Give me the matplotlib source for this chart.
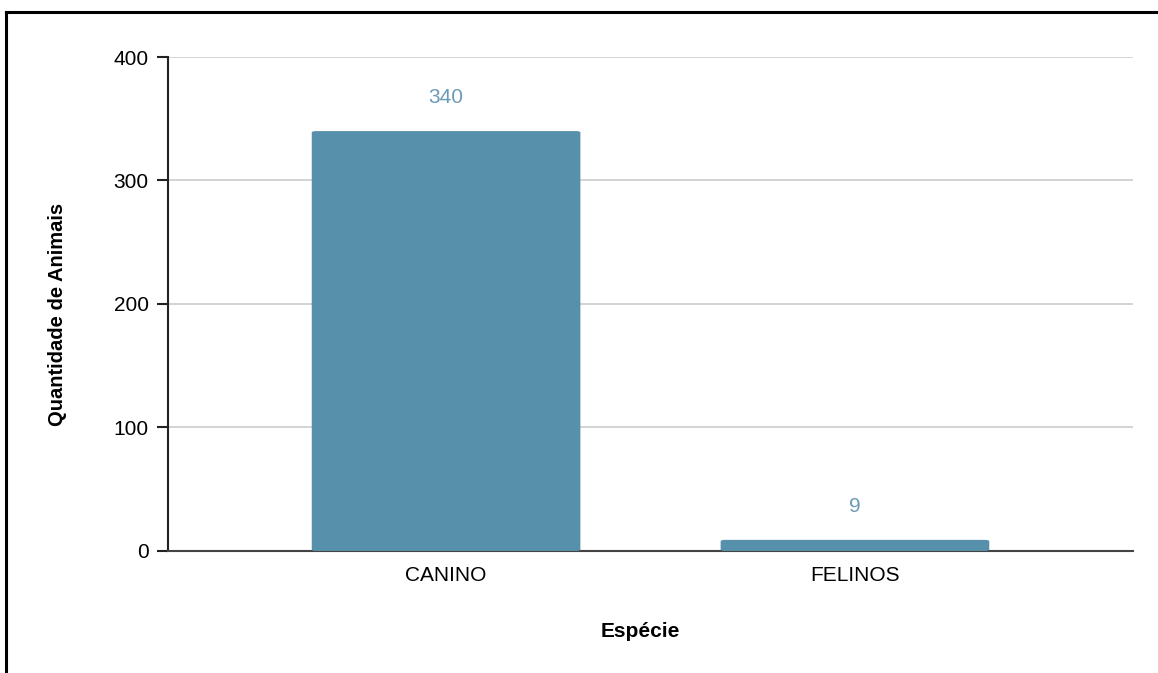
import matplotlib
matplotlib.use("Agg")
import matplotlib.pyplot as plt
from matplotlib.lines import Line2D
from matplotlib.patches import FancyBboxPatch

# dados: animais por espécie
especies = ["CANINO", "FELINOS"]
quantidades = [340, 9]
yticks = [0, 100, 200, 300, 400]

cor_barra = "#5790aa"
cor_rotulo = "#6a9bb8"

plt.rcParams["font.family"] = ["Liberation Sans", "DejaVu Sans"]

fig = plt.figure(figsize=(11.58, 6.73), dpi=100)
ax = fig.add_axes([0.1451, 0.1813, 0.8333, 0.734])

x = list(range(len(especies)))
barras = ax.bar(x, quantidades, width=0.657, color=cor_barra, zorder=3)

# cantos levemente arredondados
for b in barras:
    bx, by = b.get_x(), b.get_y()
    w, h = b.get_width(), b.get_height()
    b.set_visible(False)
    ax.add_patch(FancyBboxPatch((bx, by), w, h,
                                boxstyle="round,pad=0,rounding_size=0.01",
                                mutation_aspect=(400 / 2.36) * (965 / 494) / 3,
                                facecolor=cor_barra, edgecolor="none", zorder=3))

for xi, q in zip(x, quantidades):
    ax.annotate(str(q), (xi, q), xytext=(0, 17), textcoords="offset points",
                ha="center", va="bottom", fontsize=15, color=cor_rotulo)

ax.set_xlim(-0.68, 1.68)
ax.set_ylim(0, 400)
ax.set_yticks(yticks)
ax.set_xticks(x)
ax.set_xticklabels(especies)

ax.grid(axis="y", color="#cccccc", linewidth=1.2, zorder=0)
ax.set_axisbelow(True)
for s in ["top", "right"]:
    ax.spines[s].set_visible(False)
ax.spines["left"].set_linewidth(1.5)
ax.spines["bottom"].set_linewidth(1.5)
ax.spines["bottom"].set_color("#444444")
ax.spines["left"].set_color("#222222")
ax.tick_params(axis="y", length=8, width=1.5, labelsize=15, pad=6, color="#222222")
ax.tick_params(axis="x", length=0, labelsize=15, pad=11)

ax.set_xlabel("Espécie", fontsize=15, fontweight="bold", va="center")
ax.xaxis.set_label_coords(0.489, -0.164)
ax.set_ylabel("Quantidade de Animais", fontsize=14.5, fontweight="bold", va="center")
ax.yaxis.set_label_coords(-0.115, 0.478)

# moldura superior e esquerda
fig.add_artist(Line2D([5.5 / 1158, 1], [1 - 11.5 / 673] * 2, color="black", lw=2.2))
fig.add_artist(Line2D([5.5 / 1158] * 2, [0, 1 - 11.5 / 673], color="black", lw=2.2))

fig.savefig("out.png", dpi=100)
